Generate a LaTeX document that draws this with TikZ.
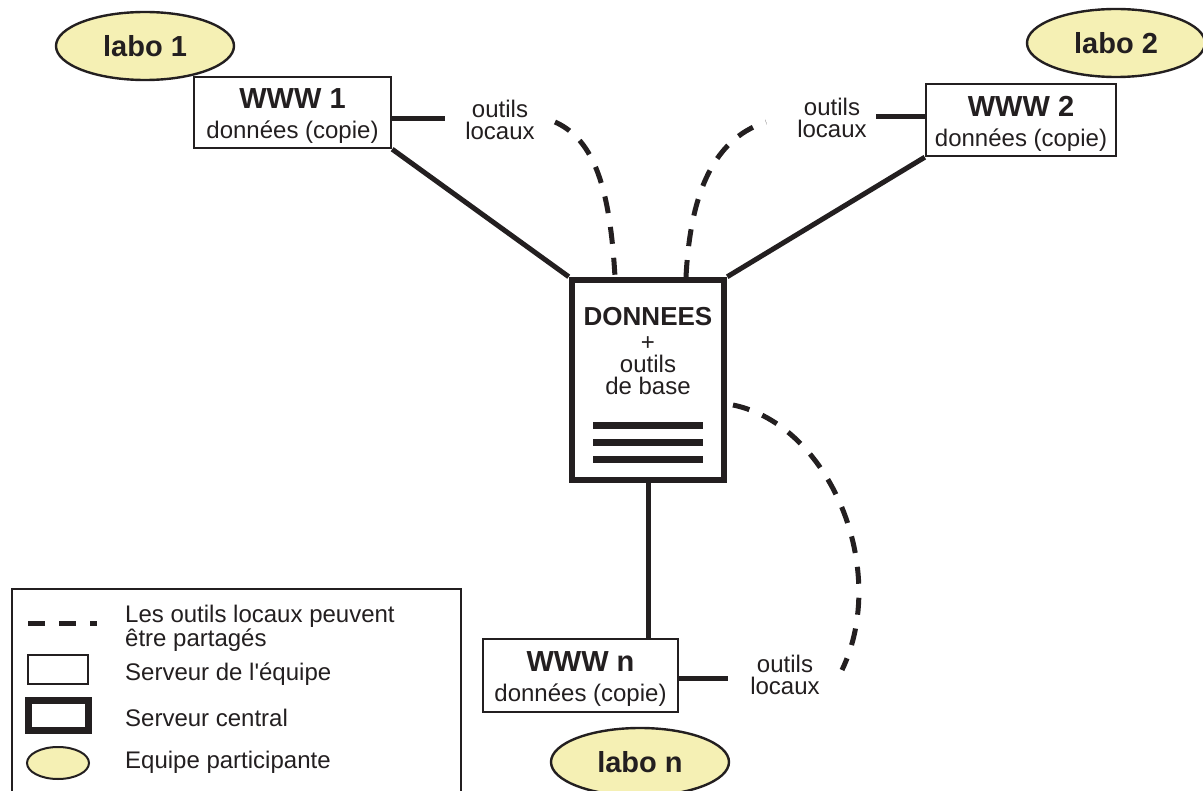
\documentclass[tikz,border=0pt]{standalone}
\usepackage{fontspec}
\setmainfont{Liberation Sans}[Ligatures=TeXOff]
\usetikzlibrary{shapes.geometric,calc}
\definecolor{labofill}{HTML}{F5F0B4}
\definecolor{ink}{HTML}{231F20}
\tikzset{
  labo/.style={ellipse,draw=ink,line width=2.4pt,fill=labofill,minimum width=178pt,minimum height=68pt,inner sep=0pt,font=\fontsize{29}{29}\selectfont\bfseries,text=ink},
  wwwbox/.style={rectangle,draw=ink,line width=2.4pt,fill=white,inner sep=0pt},
  wwwtext/.style={align=center,inner sep=0pt,font=\fontsize{24}{30}\selectfont,text=ink},
  centralbox/.style={rectangle,draw=ink,line width=6.5pt,fill=white,minimum width=152pt,minimum height=200pt,inner sep=0pt},
  link/.style={draw=ink,line width=5pt},
  shared/.style={draw=ink,line width=5pt,dash pattern=on 17pt off 14pt},
  lbl/.style={align=center,inner sep=0pt,font=\fontsize{24}{22}\selectfont,text=ink},
  legtext/.style={anchor=west,align=left,inner sep=0pt,font=\fontsize{24}{22}\selectfont,text=ink},
}
\begin{document}
\begin{tikzpicture}[x=1pt,y=-1pt]
\clip (0,0) rectangle (1203,791);
\fill[white] (0,0) rectangle (1203,791);

% ellipses
\node[labo] (l1) at (145,46) {labo 1};
\node[labo] (l2) at (1116,43) {labo 2};
\node[labo] (ln) at (640,762) {labo n};

% team servers
\node[wwwbox,minimum width=197pt,minimum height=71pt] (w1) at (292.5,112.5) {};
\node[wwwtext] (w1t) at (292.5,116.5) {\textbf{\fontsize{29}{29}\selectfont WWW 1}\\données (copie)};
\node[wwwbox,minimum width=190pt,minimum height=72pt] (w2) at (1021,120) {};
\node[wwwtext] (w2t) at (1021,124) {\textbf{\fontsize{29}{29}\selectfont WWW 2}\\données (copie)};
\node[wwwbox,minimum width=195pt,minimum height=73pt] (wn) at (580.5,675.5) {};
\node[wwwtext] (wnt) at (580.5,679) {\textbf{\fontsize{29}{29}\selectfont WWW n}\\données (copie)};

% central server
\node[centralbox] (c) at (648,380) {};
\node[lbl] (ct) at (648,351) {\textbf{\fontsize{26}{26}\selectfont DONNEES}\\[3pt]+\\outils\\de base};
\foreach \y in {426,443,460} \draw[ink,line width=7pt] (593,\y) -- (703,\y);

% local tools labels
\node[lbl] (o1) at (500,120) {outils\\locaux};
\node[lbl] (o2) at (832,118) {outils\\locaux};
\node[lbl] (on) at (785,675) {outils\\locaux};

% links
\draw[link] (w1.south east) -- (c.north west);
\draw[link] (w2.south west) -- (c.north east);
\draw[link] (c.south) -- (wn.north -| c.south);
\draw[link,shorten >=20pt] (w1.east |- 0,119) -- (o1.west |- 0,119);
\draw[link,shorten >=9pt] (w2.west |- 0,117) -- (o2.east |- 0,117);
\draw[link,shorten >=22pt] (wn.east |- 0,678) -- (on.west |- 0,678);

% shared tools (dashed)
\coordinate (d1) at (555,122);
\coordinate (d1e) at (615,277);
\coordinate (d2) at (686,277);
\coordinate (d2e) at (766,122);
\coordinate (d3) at (733,405);
\coordinate (d3e) at (842,670);
\draw[shared] (d1) .. controls (595,140) and (610,190) .. (d1e);
\draw[shared] (d2) .. controls (690,200) and (710,140) .. (d2e);
\draw[shared] (d3) .. controls (830,425) and (890,570) .. (d3e);

% legend
\draw[ink,line width=2.2pt] (12,589) rectangle (461,810);
\coordinate (lg1a) at (28,623);
\coordinate (lg1b) at (97,623);
\draw[shared] (lg1a) -- (lg1b);
\node[legtext] (t1) at (125,628) {Les outils locaux peuvent\\être partagés};
\node[rectangle,draw=ink,line width=2.2pt,minimum width=60pt,minimum height=29pt,inner sep=0pt] (k2) at (58,669.5) {};
\node[legtext] (t2) at (125,674) {Serveur de l'équipe};
\node[rectangle,draw=ink,line width=7pt,fill=white,minimum width=60pt,minimum height=30pt,inner sep=0pt] (k3) at (58.5,715.5) {};
\node[legtext] (t3) at (125,718) {Serveur central};
\node[ellipse,draw=ink,line width=2pt,fill=labofill,minimum width=62pt,minimum height=32pt,inner sep=0pt] (k4) at (58,763) {};
\node[legtext] (t4) at (125,762) {Equipe participante};
\end{tikzpicture}
\end{document}
